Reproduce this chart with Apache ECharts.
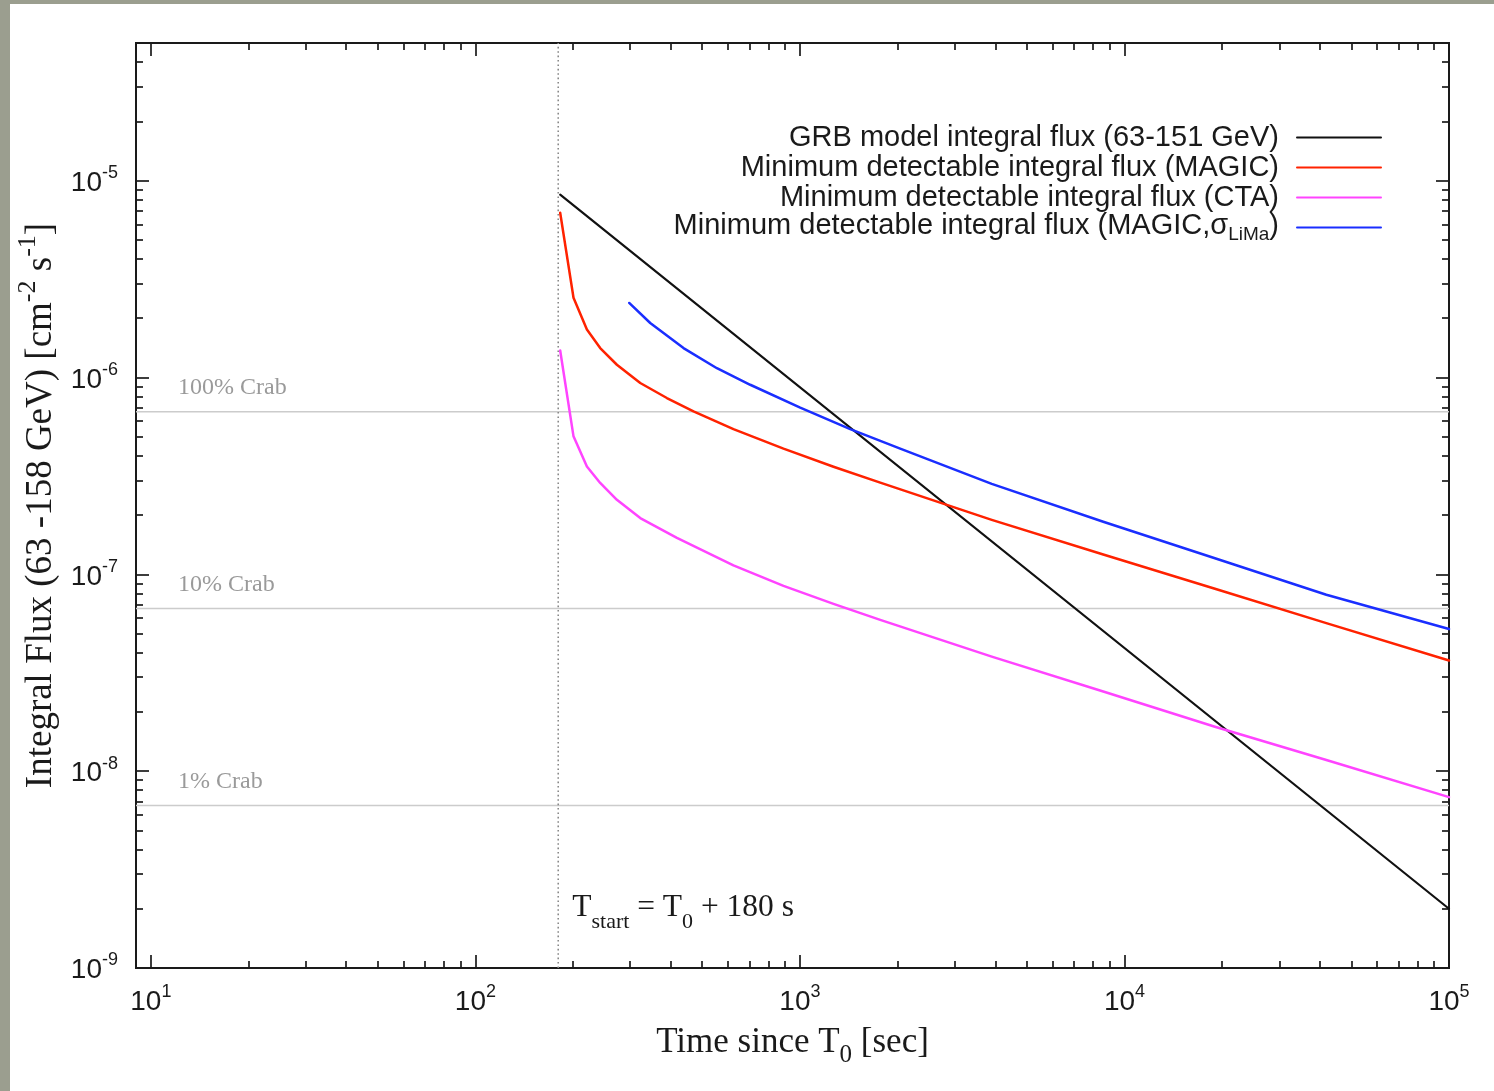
<!DOCTYPE html>
<html><head><meta charset="utf-8">
<script src="https://cdn.jsdelivr.net/npm/echarts@6/dist/echarts.min.js"></script>
<style>
html,body{margin:0;padding:0;background:#9b9e8f;width:1494px;height:1091px;overflow:hidden}
#frame{position:absolute;left:10px;top:4px;width:1484px;height:1087px;background:#fff}
#chart{width:1484px;height:1087px}
</style></head><body><div id="frame"><div id="chart"></div></div>
<script>
// ---------- data ----------
const timeRange = [9, 100000];
const fluxRange = [1e-9, 5e-5];
const xMajorTicks = [10, 100, 1000, 10000, 100000];
const xMinorTicks = [20, 30, 40, 50, 60, 70, 80, 90,
  200, 300, 400, 500, 600, 700, 800, 900,
  2000, 3000, 4000, 5000, 6000, 7000, 8000, 9000,
  20000, 30000, 40000, 50000, 60000, 70000, 80000, 90000];
const yMajorTicks = [1e-9, 1e-8, 1e-7, 1e-6, 1e-5];
const yMinorTicks = [2e-9, 3e-9, 4e-9, 5e-9, 6e-9, 7e-9, 8e-9, 9e-9,
  2e-8, 3e-8, 4e-8, 5e-8, 6e-8, 7e-8, 8e-8, 9e-8,
  2e-7, 3e-7, 4e-7, 5e-7, 6e-7, 7e-7, 8e-7, 9e-7,
  2e-6, 3e-6, 4e-6, 5e-6, 6e-6, 7e-6, 8e-6, 9e-6,
  2e-5, 3e-5, 4e-5];

const seriesNames = [
  'GRB model integral flux (63-151 GeV)',
  'Minimum detectable integral flux (MAGIC)',
  'Minimum detectable integral flux (CTA)',
  'Minimum detectable integral flux (MAGIC,\u03c3LiMa)'
];
const seriesColors = ['#111111', '#ff2200', '#ff44ff', '#1a2eff'];

const grbTime = [182.5, 100000];
const grbFlux = [8.49e-6, 2.0e-9];

const magicTime = [182.5, 200.6, 220.6, 242.4, 272.9, 322.1, 389.1, 470, 624, 890, 1269, 1768, 3900, 8603, 19000, 41880, 100000];
const magicFlux = [6.86e-6, 2.54e-6, 1.75e-6, 1.41e-6, 1.16e-6, 9.37e-7, 7.86e-7, 6.72e-7, 5.46e-7, 4.35e-7, 3.52e-7, 2.92e-7, 1.89e-7, 1.26e-7, 8.44e-8, 5.65e-8, 3.65e-8];

const ctaTime = [182.5, 200.6, 220.6, 242.4, 272.9, 322.1, 417.8, 624, 890, 1269, 1768, 3900, 8603, 19000, 41880, 100000];
const ctaFlux = [1.37e-6, 5.02e-7, 3.53e-7, 2.91e-7, 2.39e-7, 1.93e-7, 1.53e-7, 1.11e-7, 8.74e-8, 7.08e-8, 5.87e-8, 3.82e-8, 2.54e-8, 1.68e-8, 1.14e-8, 7.38e-9];

const limaTime = [297.8, 345.7, 437.8, 554.9, 702.9, 1002, 1429, 2037, 3900, 8603, 19000, 41880, 100000];
const limaFlux = [2.39e-6, 1.89e-6, 1.41e-6, 1.114e-6, 9.18e-7, 7.02e-7, 5.46e-7, 4.35e-7, 2.88e-7, 1.85e-7, 1.206e-7, 7.87e-8, 5.27e-8];

const crabFlux = [6.7e-7, 6.7e-8, 6.7e-9];
const crabLabels = ['100% Crab', '10% Crab', '1% Crab'];
const tStart = 180;

// ---------- styles ----------
const SANS = '"Liberation Sans", Arial, Helvetica, sans-serif';
const SERIF = '"Liberation Serif", "Times New Roman", serif';
const INK = '#1a1a1a';

function zip(a, b) { return a.map((v, i) => [v, b[i]]); }
function expLabel(v) {
  const e = Math.round(Math.log10(v));
  return '{b|10}{s|' + e + '}';
}
const tickRich = {
  b: { fontFamily: SANS, fontSize: 28, height: 28, lineHeight: 33, color: INK, verticalAlign: 'bottom' },
  s: { fontFamily: SANS, fontSize: 18, height: 18, lineHeight: 18, color: INK, verticalAlign: 'top' }
};

function makeX(pos, ticks, len, withLabels) {
  return {
    type: 'log', logBase: 10, min: timeRange[0], max: timeRange[1], position: pos,
    axisLine: { show: true, onZero: false, lineStyle: { color: INK, width: 2 } },
    axisTick: { show: true, inside: true, length: len, customValues: ticks, lineStyle: { color: INK, width: 1.7 } },
    axisLabel: withLabels ? {
      show: true, customValues: xMajorTicks, margin: 15, formatter: expLabel, rich: tickRich
    } : { show: false },
    splitLine: { show: false }, minorTick: { show: false }, minorSplitLine: { show: false },
    name: withLabels ? '{n|Time since T}{sb|0}{n| [sec]}' : '',
    nameLocation: 'middle', nameGap: 57,
    nameTextStyle: {
      rich: {
        n: { fontFamily: SERIF, fontSize: 35, height: 35, lineHeight: 35, color: INK, verticalAlign: 'top' },
        sb: { fontFamily: SERIF, fontSize: 25, height: 25, lineHeight: 43, color: INK, verticalAlign: 'bottom' }
      }
    }
  };
}
function makeY(pos, ticks, len, withLabels) {
  return {
    type: 'log', logBase: 10, min: fluxRange[0], max: fluxRange[1], position: pos,
    axisLine: { show: true, onZero: false, lineStyle: { color: INK, width: 2 } },
    axisTick: { show: true, inside: true, length: len, customValues: ticks, lineStyle: { color: INK, width: 1.7 } },
    axisLabel: withLabels ? {
      show: true, customValues: yMajorTicks, margin: 18, formatter: expLabel, rich: tickRich
    } : { show: false },
    splitLine: { show: false }, minorTick: { show: false }, minorSplitLine: { show: false },
    name: withLabels ? '{n|Integral Flux (63 -158 GeV) [cm}{sp|-2}{n| s}{sp|-1}{n|]}' : '',
    nameLocation: 'middle', nameGap: 73, nameRotate: 90,
    nameTextStyle: {
      rich: {
        n: { fontFamily: SERIF, fontSize: 37, height: 37, lineHeight: 45, color: INK, verticalAlign: 'bottom' },
        sp: { fontFamily: SERIF, fontSize: 26, height: 26, lineHeight: 26, color: INK, verticalAlign: 'top' }
      }
    }
  };
}

const legendTops = [119, 149, 179, 207];
const legendRich = {
  n: { fontFamily: SANS, fontSize: 29, height: 29, lineHeight: 29, color: INK, verticalAlign: 'top' },
  s: { fontFamily: SANS, fontSize: 19, height: 19, lineHeight: 33, color: INK, verticalAlign: 'bottom' }
};
function legendFmt(name) {
  if (name.indexOf('\u03c3LiMa') >= 0) {
    return '{n|' + name.replace('\u03c3LiMa)', '\u03c3') + '}{s|LiMa}{n|)}';
  }
  return '{n|' + name + '}';
}

const chart = echarts.init(document.getElementById('chart'), null, { renderer: 'canvas' });

const series = [];
crabFlux.forEach((f, i) => {
  series.push({
    type: 'line', name: 'crab' + i, data: [[timeRange[0], f], [timeRange[1], f]],
    symbol: 'none', silent: true, lineStyle: { color: '#cccccc', width: 1.5 }, z: 1
  });
});
series.push({
  type: 'line', name: 'tstart', data: [[tStart, fluxRange[0]], [tStart, fluxRange[1]]],
  symbol: 'none', silent: true, lineStyle: { color: '#888888', width: 1.6, type: [1.6, 2.8] }, z: 1
});
const curves = [zip(grbTime, grbFlux), zip(magicTime, magicFlux), zip(ctaTime, ctaFlux), zip(limaTime, limaFlux)];
curves.forEach((d, i) => {
  series.push({
    type: 'line', name: seriesNames[i], data: d, symbol: 'none', smooth: false,
    lineStyle: { color: seriesColors[i], width: i === 0 ? 2.2 : 2.5, join: 'round', cap: 'round' },
    itemStyle: { color: seriesColors[i] }, z: 3
  });
});

const option = {
  animation: false,
  backgroundColor: '#ffffff',
  grid: { left: 126, right: 45, top: 39, bottom: 123, containLabel: false, outerBoundsMode: 'none' },
  xAxis: [
    makeX('bottom', xMajorTicks, 13, true),
    makeX('bottom', xMinorTicks, 7, false),
    makeX('top', xMajorTicks, 13, false),
    makeX('top', xMinorTicks, 7, false)
  ],
  yAxis: [
    makeY('left', yMajorTicks, 13, true),
    makeY('left', yMinorTicks, 7, false),
    makeY('right', yMajorTicks, 13, false),
    makeY('right', yMinorTicks, 7, false)
  ],
  legend: seriesNames.map((nm, i) => ({
    data: [nm], orient: 'horizontal', align: 'right', right: 112, top: legendTops[i],
    itemWidth: 84, itemHeight: 28, padding: 0, selectedMode: false,
    itemStyle: { opacity: 0 },
    formatter: legendFmt,
    textStyle: { fontFamily: SANS, fontSize: 29, color: INK, padding: [0, 13, 0, 0], rich: legendRich }
  })),
  series: series
};
chart.setOption(option);

// annotations anchored through the axes' scales
const gridFinder = { xAxisIndex: 0, yAxisIndex: 0 };
const leftPx = chart.convertToPixel(gridFinder, [timeRange[0], fluxRange[0]])[0];
const graphics = crabFlux.map((f, i) => {
  const p = chart.convertToPixel(gridFinder, [timeRange[0], f]);
  return {
    type: 'text', left: leftPx + 42, top: p[1] - 36, silent: true,
    style: { text: crabLabels[i], fontFamily: SERIF, fontSize: 24, fill: '#9a9a9a' }
  };
});
const ts = chart.convertToPixel(gridFinder, [tStart, fluxRange[0]]);
graphics.push({
  type: 'text', left: ts[0] + 14, top: ts[1] - 76, silent: true,
  style: {
    text: '{n|T}{sb|start}{n| = T}{sb|0}{n| + 180 s}',
    rich: {
      n: { fontFamily: SERIF, fontSize: 31.5, height: 31, lineHeight: 31, fill: INK, verticalAlign: 'top' },
      sb: { fontFamily: SERIF, fontSize: 22, height: 22, lineHeight: 41, fill: INK, verticalAlign: 'bottom' }
    }
  }
});
chart.setOption({ graphic: graphics });
</script>
</body></html>
